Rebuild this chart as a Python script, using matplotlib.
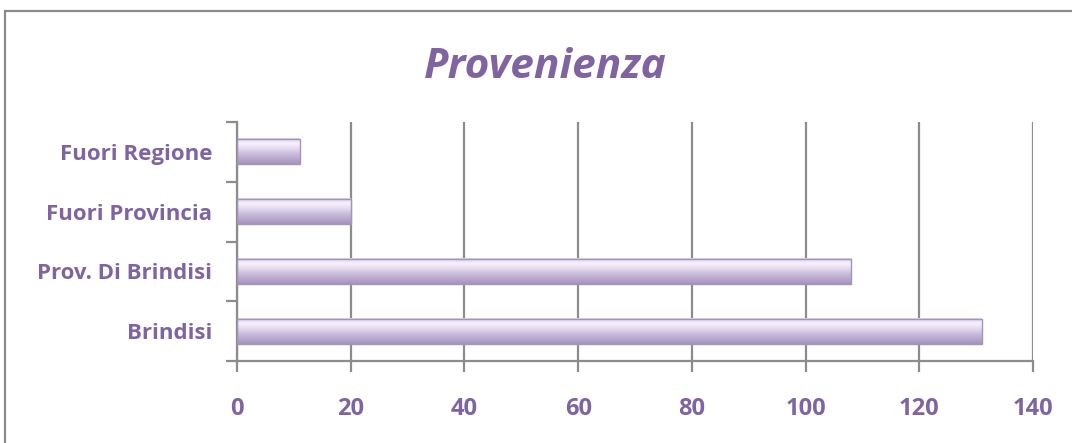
import numpy as np
import matplotlib
matplotlib.use("Agg")
import matplotlib.pyplot as plt
from matplotlib.colors import LinearSegmentedColormap
from matplotlib.patches import Rectangle

# ---------------------------------------------------------------- data
categories = ["Brindisi", "Prov. Di Brindisi", "Fuori Provincia", "Fuori Regione"]
values = [131, 108, 20, 11]
xticks = [0, 20, 40, 60, 80, 100, 120, 140]

PURPLE = "#8064A2"
GRID = "#8c8c8c"
BAR_H = 0.42

plt.rcParams["font.family"] = ["Open Sans", "DejaVu Sans"]

fig = plt.figure(figsize=(10.72, 4.43), dpi=100)
# outer chart frame
fig.patches.append(Rectangle((5 / 1072, -0.02), 1.1, 1 - 11 / 443 + 0.02,
                             transform=fig.transFigure, fill=False,
                             edgecolor="#8a8a8a", lw=1.6, zorder=0))
ax = fig.add_axes([237 / 1072, 1 - 361 / 443, 796 / 1072, 239 / 443])

# vertical gradient (light top, darker bottom) for the bevelled look
cmap = LinearSegmentedColormap.from_list(
    "lav", ["#ddd2ea", "#f7f1fc", "#e4daef", "#cbbddd", "#b8a8cd", "#a595bd"])
grad = np.linspace(0, 1, 64).reshape(-1, 1)

ys = np.arange(len(categories))
for y, v in zip(ys, values):
    ax.imshow(grad, cmap=cmap, aspect="auto", interpolation="bilinear",
              extent=(0, v, y - BAR_H / 2, y + BAR_H / 2), zorder=2)
    ax.add_patch(Rectangle((0, y - BAR_H / 2), v, BAR_H, fill=False,
                           edgecolor="#a493bb", lw=1.0, zorder=3))

ax.set_xlim(0, 140)
ax.set_ylim(-0.5, len(categories) - 0.5)
ax.set_xticks(xticks)
ax.set_xticklabels([str(t) for t in xticks])
ax.set_yticks(ys)
ax.set_yticklabels(categories)
ax.set_yticks(np.arange(-0.5, len(categories)), minor=True)

ax.grid(True, axis="x", color=GRID, lw=1.6, zorder=0)
ax.set_axisbelow(True)
for s in ("top", "right"):
    ax.spines[s].set_visible(False)
for s in ("left", "bottom"):
    ax.spines[s].set_color(GRID)
    ax.spines[s].set_linewidth(1.6)

ax.tick_params(axis="x", length=8, width=1.6, color=GRID, pad=18,
               labelcolor=PURPLE, labelsize=17)
ax.tick_params(axis="y", which="major", length=0, pad=18,
               labelcolor=PURPLE, labelsize=16)
ax.tick_params(axis="y", which="minor", length=8, width=1.6, color=GRID)
for lab in ax.get_xticklabels() + ax.get_yticklabels():
    lab.set_fontweight("bold")

fig.text(545 / 1072, 1 - 62 / 443, "Provenienza", color=PURPLE,
         fontsize=30.5, fontweight="bold", fontstyle="italic",
         ha="center", va="center_baseline")

fig.savefig("out.png", dpi=100)
